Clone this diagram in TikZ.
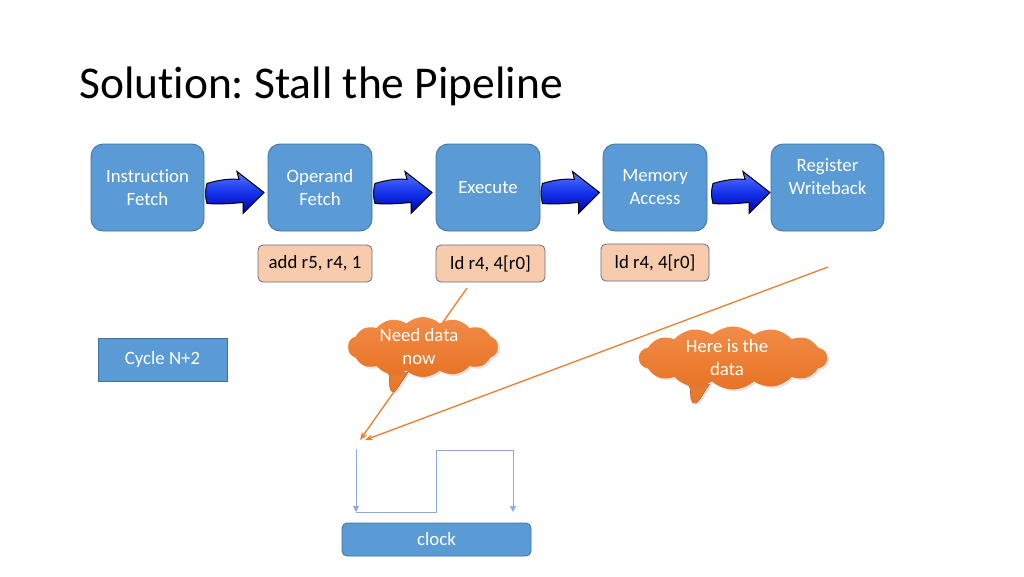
\documentclass[tikz,border=0pt]{standalone}
\usepackage{fontspec}
\setmainfont[Ligatures={NoCommon,NoRare,NoContextual}]{Carlito}
\frenchspacing
\usetikzlibrary{shapes.symbols,arrows.meta,shadows,calc}
\definecolor{stageblue}{RGB}{91,155,213}
\definecolor{stageedge}{RGB}{65,113,156}
\definecolor{peach}{RGB}{248,203,173}
\definecolor{peachedge}{RGB}{100,112,128}
\definecolor{orng}{RGB}{237,125,49}
\definecolor{orngl}{RGB}{241,140,72}
\definecolor{orngd}{RGB}{232,115,36}
\definecolor{wavec}{RGB}{143,170,220}
\tikzset{
  txt/.style={font=\fontsize{18.8}{23}\selectfont},
  stage/.style={txt,draw=stageedge,line width=0.8pt,fill=stageblue,text=white,rounded corners=12pt,
    minimum height=87pt,inner sep=0pt,align=center},
  instr/.style={txt,draw=peachedge,line width=0.8pt,fill=peach,text=black,rounded corners=5pt,
    minimum height=37pt,inner sep=0pt},
  plainbox/.style={txt,draw=stageedge,line width=0.8pt,fill=stageblue,text=white,inner sep=0pt},
  talk/.style={cloud,cloud puffs=14,cloud puff arc=85,aspect=2.8,inner sep=0pt,
    top color=orngl,bottom color=orngd,
    drop shadow={opacity=0.2,shadow xshift=2pt,shadow yshift=-2pt}},
  talktext/.style={txt,text=white,align=center,inner sep=0pt},
  tail/.style={top color=orng,bottom color=orngd,draw=none,
    drop shadow={opacity=0.2,shadow xshift=2pt,shadow yshift=-2pt}},
  olink/.style={draw=orng,line width=1.3pt,-{Stealth[length=8pt,width=6pt]}},
  wave/.style={draw=wavec,line width=1pt},
  wavetip/.style={wave,-{Triangle[length=6pt,width=6pt]}},
  blk/.pic={
    \draw[black,line width=1pt,top color={rgb,255:red,90;green,120;blue,255},
      bottom color={rgb,255:red,0;green,0;blue,170},middle color={rgb,255:red,20;green,50;blue,235}]
      (-29,-7) .. controls (-16,-11) and (-5,-12) .. (3,-11) -- (1,-19) -- (28,2) -- (7,23) -- (7,12)
      .. controls (-5,13) and (-17,14) .. (-29,13) .. controls (-31,6) and (-31,0) .. cycle;
  }
}
\begin{document}
\begin{tikzpicture}[x=1pt,y=-1pt]
\useasboundingbox[fill=white] (0,0) rectangle (1024,576);
% title
\node[anchor=base west,inner sep=0pt,font=\fontsize{45.5}{54}\selectfont] (title) at (79,98) {Solution: Stall the Pipeline};
% stages
\node[stage,minimum width=113pt] (IF) at (147.5,187.5) {Instruction\\Fetch};
\node[stage,minimum width=104pt] (OF) at (320,187.5) {Operand\\Fetch};
\node[stage,minimum width=104pt] (EX) at (488,187.5) {Execute};
\node[stage,minimum width=104pt] (MA) at (655,187.5) {Memory\\Access};
\node[stage,minimum width=113pt] (RW) at (827.5,187.5) {};
\node[talktext] (RWt) at ($(RW.center)+(0,-11)$) {Register\\Writeback};
% block arrows
\pic at ($(IF.east)!0.5!(OF.west)+(0,3)$) {blk};
\pic at ($(OF.east)!0.5!(EX.west)+(0,3)$) {blk};
\pic at ($(EX.east)!0.5!(MA.west)+(0,3)$) {blk};
\pic at ($(MA.east)!0.5!(RW.west)+(3,3)$) {blk};
% instructions
\node[instr,minimum width=114pt] (I1) at (315,263.5) {add r5, r4, 1};
\node[instr,minimum width=109pt] (I2) at (490.5,263.5) {ld r4, 4[r0]};
\node[instr,minimum width=108pt] (I3) at (655,262.5) {ld r4, 4[r0]};
% cycle box
\node[plainbox,minimum width=129pt,minimum height=43pt] (cyc) at (162.5,359.5) {Cycle N+2};
% orange links
\coordinate (q1) at (467,288);
\coordinate (t1) at (360,440);
\coordinate (q2) at (828,267);
\coordinate (t2) at (365,440);
\draw[olink] (q1) -- (t1);
\draw[olink] (q2) -- (t2);
% clouds
\fill[tail] (388,372) .. controls (391,380) and (388,386) .. (391,391) .. controls (396,394) and (400,383) .. (408,372) -- cycle;
\node[talk,minimum width=150pt,minimum height=60pt] (need) at (423,347) {};
\node[talktext] (needt) at (419,347) {Need data\\now};
\fill[tail] (688,384) .. controls (693,392) and (688,398) .. (693,403) .. controls (699,405) and (702,394) .. (710,384) -- cycle;
\node[talk,minimum width=188pt,minimum height=63pt] (here) at (733,358) {};
\node[talktext] (heret) at (727,358) {Here is the\\data};
% clock waveform
\coordinate (w0) at (356,449);
\coordinate (w1) at (356,512);
\coordinate (w2) at (436,512);
\coordinate (w3) at (436,450);
\coordinate (w4) at (513,450);
\coordinate (w5) at (513,512);
\draw[wavetip] (w0) -- (w1);
\draw[wavetip] (w1) -- (w2) -- (w3) -- (w4) -- (w5);
% clock box
\node[plainbox,rounded corners=5pt,minimum width=189pt,minimum height=33pt] (clk) at (436.5,539.5) {clock};
\end{tikzpicture}
\end{document}
